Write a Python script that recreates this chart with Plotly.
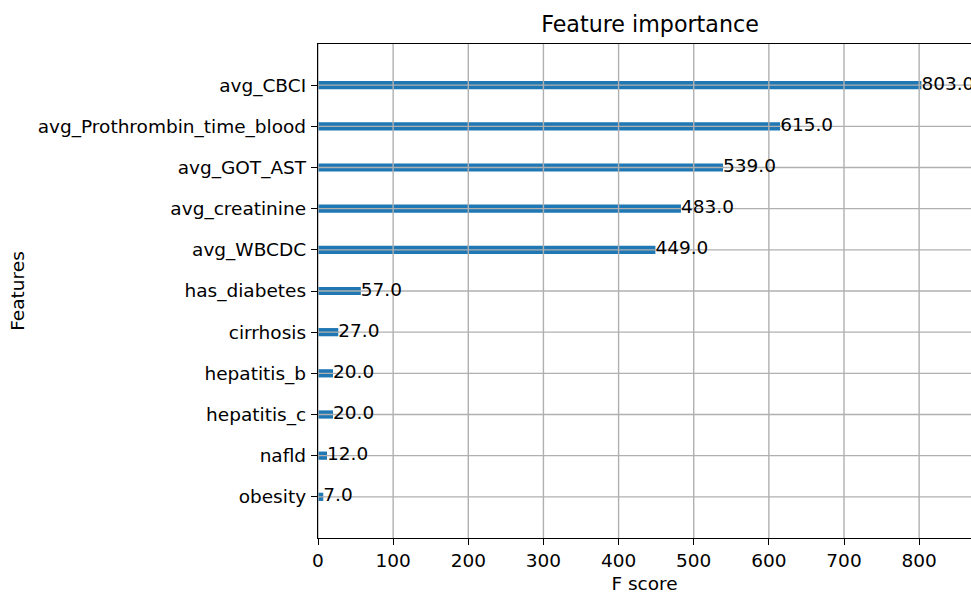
import plotly.graph_objects as go

features = ["obesity", "nafld", "hepatitis_c", "hepatitis_b", "cirrhosis",
            "has_diabetes", "avg_WBCDC", "avg_creatinine", "avg_GOT_AST",
            "avg_Prothrombin_time_blood", "avg_CBCI"]
scores = [7, 12, 20, 20, 27, 57, 449, 483, 539, 615, 803]
x_ticks = [0, 100, 200, 300, 400, 500, 600, 700, 800]

positions = list(range(len(features)))
x_range = [0, 869]
y_range = [-1, len(features)]

GRID = "#b0b0b0"
FONT = "DejaVu Sans"
FS = 18.5

fig = go.Figure()
fig.add_trace(go.Bar(x=scores, y=positions, orientation="h", width=0.2,
                     marker=dict(color="#1f77b4", line=dict(width=0)),
                     showlegend=False, hoverinfo="skip"))

# grid drawn above the bars (as in matplotlib)
gx, gy = [], []
for t in x_ticks:
    gx += [t, t, None]
    gy += [y_range[0], y_range[1], None]
for p in positions:
    gx += [x_range[0], x_range[1], None]
    gy += [p, p, None]
fig.add_trace(go.Scatter(x=gx, y=gy, mode="lines",
                         line=dict(color=GRID, width=1.4),
                         showlegend=False, hoverinfo="skip"))

fig.add_trace(go.Scatter(x=scores, y=positions, mode="text",
                         text=[f"{v:.1f}" for v in scores],
                         textposition="middle right",
                         textfont=dict(family=FONT, size=FS, color="black"),
                         cliponaxis=False, showlegend=False, hoverinfo="skip"))

fig.update_layout(
    width=971, height=595,
    margin=dict(l=318, r=0, t=44, b=57),
    paper_bgcolor="white", plot_bgcolor="white",
    font=dict(family=FONT, size=FS, color="black"),
    title=dict(text="Feature importance", x=650 / 971, xanchor="center",
               y=1 - 24 / 595, yanchor="middle",
               font=dict(family=FONT, size=22.2, color="black")),
    xaxis=dict(range=x_range, tickvals=x_ticks, ticks="outside", ticklen=6,
               tickwidth=1.4, tickcolor="black", showline=True, linecolor="black",
               linewidth=1.4, mirror=True, showgrid=False, zeroline=False,
               tickfont=dict(family=FONT, size=FS, color="black"),
               title=dict(text="F score", standoff=6,
                          font=dict(family=FONT, size=FS))),
    yaxis=dict(range=y_range, tickvals=positions, ticktext=features,
               ticks="outside", ticklen=6, tickwidth=1.4, tickcolor="black",
               showline=True, linecolor="black", linewidth=1.4, mirror=False,
               showgrid=False, zeroline=False, ticklabelstandoff=1,
               tickfont=dict(family=FONT, size=FS, color="black"),
               title=dict(text="Features", standoff=8,
                          font=dict(family=FONT, size=FS))),
)

fig.write_html("out.html")
